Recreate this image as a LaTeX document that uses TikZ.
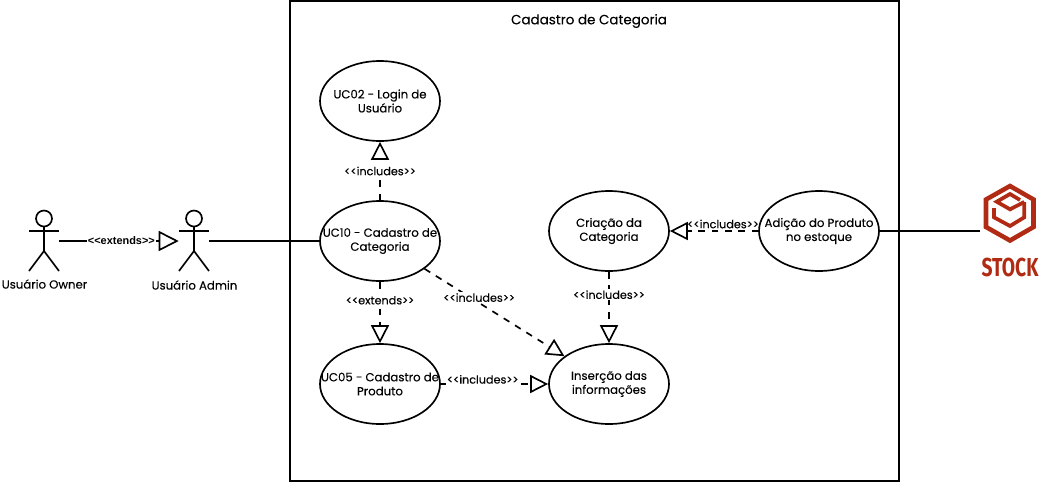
\documentclass[tikz,border=0pt]{standalone}
\usepackage{fontspec}
\setmainfont[FakeBold=0.15]{Poppins}
\newfontfamily\labelfont{Liberation Sans}
\newfontfamily\logofont{Fira Sans}
\usetikzlibrary{arrows.meta,shapes.geometric}
\definecolor{stockred}{HTML}{B02A14}
\tikzset{
	usecase/.style={draw,ellipse,line width=1.25pt,minimum width=90pt,minimum height=60pt,inner xsep=-16pt,inner ysep=-8pt,align=center,font=\fontsize{8.8}{10.5}\selectfont},
	actorbox/.style={minimum width=22.5pt,minimum height=45pt,inner sep=0pt},
	actorline/.style={line width=1.25pt},
	actorname/.style={font=\fontsize{8.8}{10.5}\selectfont},
	relation/.style={line width=1.25pt,dash pattern=on 5pt off 5pt,-{Triangle[open,length=13.5pt,width=13.5pt,line width=1.25pt]}},
	assoc/.style={line width=1.25pt},
	stereo/.style={fill=white,inner sep=1pt,font=\fontsize{8.4}{10}\selectfont},
	logoline/.style={draw=stockred,line width=2.8pt,line join=miter}
}
\begin{document}
\begin{tikzpicture}[x=0.75pt,y=-0.75pt]
	\useasboundingbox (0,0) rectangle (1042,483);
	%system boundary
		\node[draw,line width=1.25pt,minimum width=456.75pt,minimum height=360pt,inner sep=0pt] (system) at (594.5,241) {};
		\node[font=\fontsize{10.1}{12}\selectfont] (title) at (589,21) {Cadastro de Categoria};
	%use cases
		\node[usecase] (login) at (380,101) {UC02 - Login de\\Usuário};
		\node[usecase] (cadastro) at (380,241) {UC10 - Cadastro de\\Categoria};
		\node[usecase] (produto) at (380,384) {UC05 - Cadastro de\\Produto};
		\node[usecase] (insercao) at (609,384) {Inserção das\\informações};
		\node[usecase] (criacao) at (609,231) {Criação da\\Categoria};
		\node[usecase] (adicao) at (819,231) {Adição do Produto\\no estoque};
	%actors
		\foreach \name/\ax/\txt/\ty in {owner/44/Usuário Owner/284,admin/194/Usuário Admin/285}{
			\node[actorbox] (\name) at (\ax,241) {};
			\draw[actorline] (\ax,218.5) circle (6pt);
			\draw[actorline] (\ax-15,231) -- (\ax+15,231);
			\draw[actorline] (\ax,226.5) -- (\ax,251) -- (\ax-15,271);
			\draw[actorline] (\ax,251) -- (\ax+15,271);
			\node[actorname] (\name name) at (\ax+0.5,\ty) {\txt};
		}
	%logo
		\coordinate (logo) at (980,231);
		\draw[logoline,line width=3.4pt] (1010,186) -- (1033.5,199.5) -- (1033.5,227) -- (1010,240.5) -- (986,227) -- (986,199.5) -- cycle;
		\draw[logoline] (1020,200) -- (1010,194) -- (996.7,201.7) -- (1010,209.3) -- (1024.3,202);
		\draw[logoline] (994,208) -- (994,217.3) -- (1010,226) -- (1024.3,217.3) -- (1024.3,202);
		\node[text=stockred,font=\logofont\bfseries\fontsize{19.5}{21}\selectfont,xscale=0.74,inner sep=0pt] (stock) at (1010,267) {STOCK};
	%associations
		\draw[assoc] (admin.east) -- (cadastro);
		\draw[assoc] (adicao) -- (logo);
	%generalisation + includes
		\draw[assoc,-{Triangle[open,length=15pt,width=15pt,line width=1.25pt]}] (owner.east) -- node[stereo,pos=0.52,font=\labelfont\bfseries\fontsize{8.2}{10}\selectfont] (ext1) {<{}<extends>{}>} (admin.west);
		\draw[relation] (cadastro) -- node[stereo,pos=0.5] (inc1) {<{}<includes>{}>} (login);
		\draw[relation] (cadastro) -- node[stereo,pos=0.3] (ext2) {<{}<extends>{}>} (produto);
		\draw[relation] (cadastro) -- node[stereo,pos=0.39,yshift=4pt] (inc2) {<{}<includes>{}>} (insercao);
		\draw[relation] (produto) -- node[stereo,pos=0.39,yshift=3.5pt,inner ysep=4pt] (inc3) {<{}<includes>{}>} (insercao);
		\draw[relation] (criacao) -- node[stereo,pos=0.32] (inc4) {<{}<includes>{}>} (insercao);
		\draw[relation] (adicao) -- (criacao);
		\node[stereo,fill=none] (inc5) at (723,224) {<{}<includes>{}>};
\end{tikzpicture}
\end{document}
